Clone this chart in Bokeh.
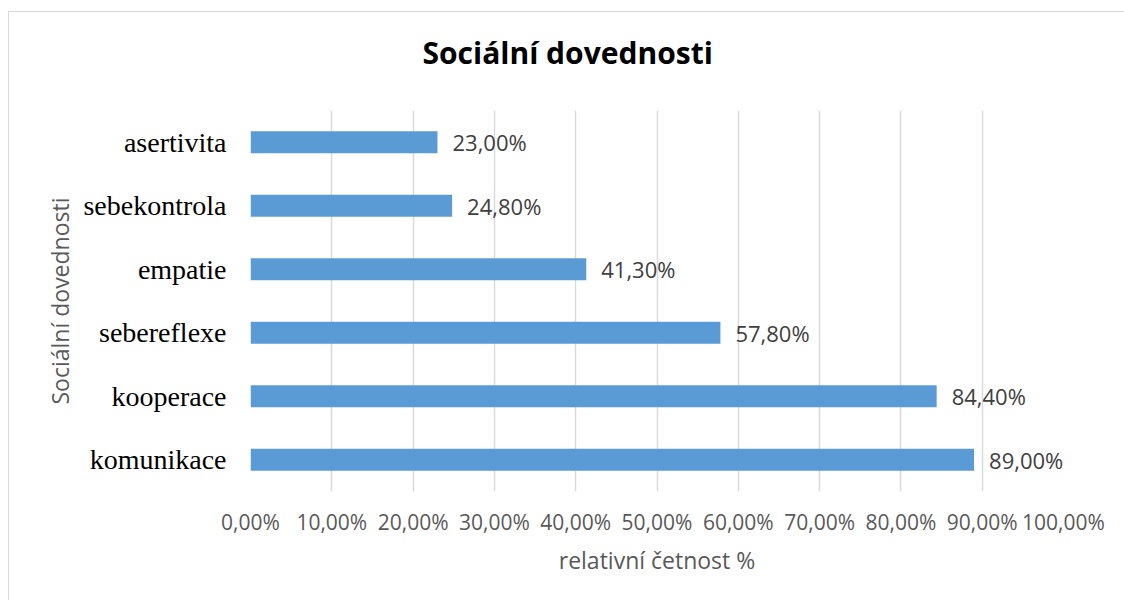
from bokeh.plotting import figure
from bokeh.models import FactorRange, Range1d, FixedTicker, ColumnDataSource, Title
from bokeh.core.properties import value
from bokeh.embed import file_html
from bokeh.resources import INLINE

# data (bottom to top)
categories = ["komunikace", "kooperace", "sebereflexe", "empatie", "sebekontrola", "asertivita"]
values = [89.0, 84.4, 57.8, 41.3, 24.8, 23.0]
x_ticks = [0, 10, 20, 30, 40, 50, 60, 70, 80, 90, 100]
title_text = "Sociální dovednosti"
x_title = "relativní četnost %"
y_title = "Sociální dovednosti"

def fmt(v):
    return f"{v:.2f}%".replace(".", ",")

labels = [fmt(v) for v in values]

src = ColumnDataSource(dict(cat=categories, val=values, lab=labels))

p = figure(width=1116, height=589, output_backend="svg", toolbar_location=None,
           y_range=FactorRange(factors=categories, range_padding=0),
           x_range=Range1d(0, 100),
           min_border_left=241, min_border_right=62, min_border_top=98, min_border_bottom=110,
           title=title_text)

p.margin = (11, 0, 0, 8)
p.styles = {"border-top": "1px solid #d9d9d9", "border-left": "1px solid #d9d9d9"}
p.outline_line_color = None
p.background_fill_color = "white"
p.border_fill_color = "white"

# main title (outermost panel)
p.title.align = "left"
p.title.offset = 172
p.title.standoff = 0
p.title.vertical_align = "bottom"
p.title.text_font = "Open Sans"
p.title.text_font_size = "30px"
p.title.text_font_style = "bold"
p.title.text_color = "#000000"

# invisible spacer between the title and the plot frame
p.add_layout(Title(text=" ", text_font_size="1px", standoff=35), "above")

p.hbar(y="cat", right="val", left=0, height=0.35, source=src,
       fill_color="#5b9bd5", line_color=None)

p.text(x="val", y="cat", text="lab", source=src, x_offset=15,
       text_baseline="middle", text_align="left",
       text_font=value("Open Sans"), text_font_size="22px", text_color="#404040")

# x axis
xa = p.xaxis[0]
xa.ticker = FixedTicker(ticks=x_ticks)
xa.major_label_overrides = {t: fmt(t) for t in x_ticks}
xa.axis_line_color = None
xa.major_tick_line_color = None
xa.minor_tick_line_color = None
xa.major_label_text_font = "Open Sans"
xa.major_label_text_font_size = "21px"
xa.major_label_text_color = "#595959"
xa.major_label_standoff = 10
xa.axis_label = x_title
xa.axis_label_text_font = "Open Sans"
xa.axis_label_text_font_size = "23px"
xa.axis_label_text_font_style = "normal"
xa.axis_label_text_color = "#595959"
xa.axis_label_standoff = 5

# y axis
ya = p.yaxis[0]
ya.axis_line_color = None
ya.major_tick_line_color = None
ya.minor_tick_line_color = None
ya.major_label_text_font = "Liberation Serif"
ya.major_label_text_font_size = "28px"
ya.major_label_text_color = "#000000"
ya.major_label_standoff = 18
ya.axis_label = y_title
ya.axis_label_text_font = "Open Sans"
ya.axis_label_text_font_size = "23px"
ya.axis_label_text_font_style = "normal"
ya.axis_label_text_color = "#595959"
ya.axis_label_standoff = 4

p.xgrid.grid_line_color = "#d9d9d9"
p.xgrid.grid_line_width = 1.5
p.xgrid.ticker = FixedTicker(ticks=x_ticks)
p.ygrid.grid_line_color = None

open("out.html", "w").write(file_html(p, INLINE))
